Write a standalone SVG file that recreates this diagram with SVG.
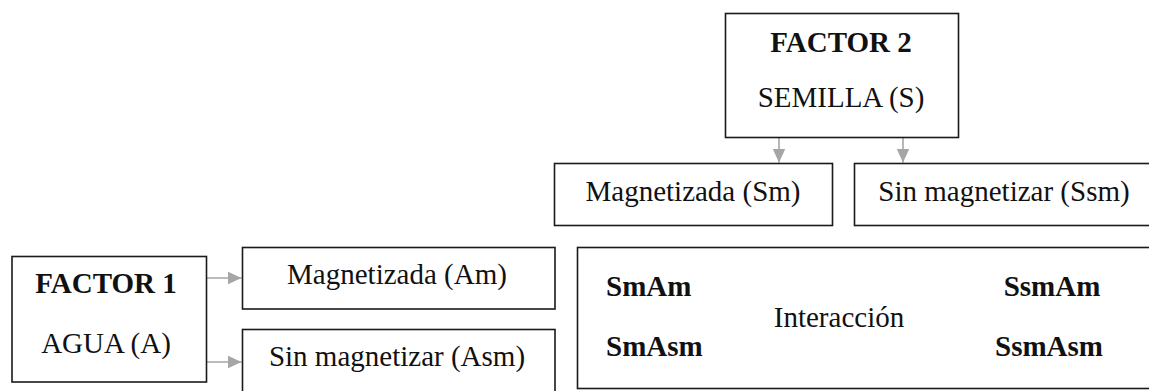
<svg xmlns="http://www.w3.org/2000/svg" width="1149" height="391" viewBox="0 0 1149 391">
  <defs>
    <style>
      .box { fill: #ffffff; stroke: #1a1a1a; stroke-width: 1.6; }
      .t { font-family: "Liberation Serif", "Times New Roman", serif; font-size: 29px; fill: #111111; }
      .b { font-weight: bold; }
      .mid { text-anchor: middle; }
      .link { stroke: #a6a6a6; stroke-width: 1.6; fill: none; marker-end: url(#head); }
    </style>
    <marker id="head" viewBox="0 0 14 14" refX="14" refY="7" markerWidth="14" markerHeight="14" markerUnits="userSpaceOnUse" orient="auto">
      <path d="M0,0.5 L14,7 L0,13.5 Z" fill="#a6a6a6"/>
    </marker>
  </defs>

  <rect width="1149" height="391" fill="#ffffff"/>

  <!-- connectors -->
  <g id="connectors">
    <line class="link" x1="779" y1="137" x2="779" y2="162.5"/>
    <line class="link" x1="903" y1="137" x2="903" y2="162.5"/>
    <line class="link" x1="207" y1="278" x2="241.5" y2="278"/>
    <line class="link" x1="207" y1="362" x2="241.5" y2="362"/>
  </g>

  <!-- factor 2: seed -->
  <g id="factor2">
    <rect class="box" x="725.5" y="13.5" width="233" height="124"/>
    <text class="t b mid" x="841" y="52">FACTOR 2</text>
    <text class="t mid" x="841" y="107">SEMILLA (S)</text>
  </g>

  <g id="seed-magnetized">
    <rect class="box" x="554.5" y="163.5" width="278" height="62"/>
    <text class="t mid" x="693" y="201">Magnetizada (Sm)</text>
  </g>

  <g id="seed-plain">
    <rect class="box" x="854.5" y="163.5" width="302" height="62"/>
    <text class="t mid" x="1004" y="201">Sin magnetizar (Ssm)</text>
  </g>

  <!-- factor 1: water -->
  <g id="factor1">
    <rect class="box" x="12" y="256.5" width="194.5" height="125.5"/>
    <text class="t b mid" x="106" y="293">FACTOR 1</text>
    <text class="t mid" x="106" y="353">AGUA (A)</text>
  </g>

  <g id="water-magnetized">
    <rect class="box" x="242.5" y="247.5" width="312.5" height="61.5"/>
    <text class="t mid" x="397" y="284">Magnetizada (Am)</text>
  </g>

  <g id="water-plain">
    <rect class="box" x="242.5" y="329.5" width="312.5" height="70"/>
    <text class="t mid" x="397" y="366">Sin magnetizar (Asm)</text>
  </g>

  <!-- interaction of both factors -->
  <g id="interaction">
    <rect class="box" x="577.5" y="247.5" width="580" height="141"/>
    <text class="t b" x="606" y="296">SmAm</text>
    <text class="t b" x="606" y="356">SmAsm</text>
    <text class="t b mid" x="1052" y="296">SsmAm</text>
    <text class="t b mid" x="1049" y="356">SsmAsm</text>
    <text class="t mid" x="839" y="327">Interacción</text>
  </g>
</svg>
